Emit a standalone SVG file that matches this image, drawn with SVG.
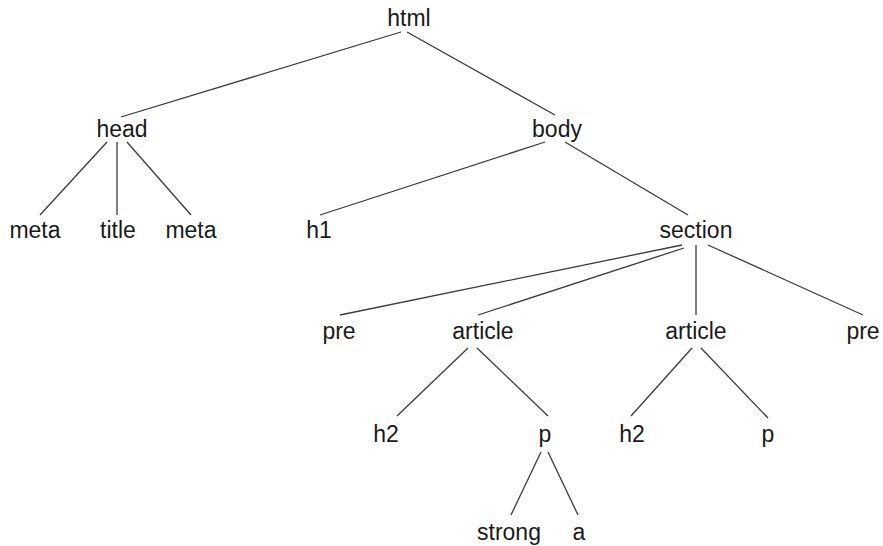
<svg xmlns="http://www.w3.org/2000/svg" width="883" height="546" viewBox="0 0 883 546">
<style>
text{font-family:"Liberation Sans",Arial,sans-serif;font-size:23px;fill:#1a1a1a;text-anchor:middle}
.c line{stroke:#3a3a3a;stroke-width:1.3;fill:none}
</style>
<rect width="883" height="546" fill="#ffffff"/>
<g class="c" id="connectors">
<line x1="401" y1="32" x2="121" y2="117"/>
<line x1="407" y1="32" x2="555" y2="115"/>
<line x1="107" y1="142" x2="40" y2="215"/>
<line x1="117" y1="142" x2="117" y2="215"/>
<line x1="127" y1="142" x2="191" y2="215"/>
<line x1="545" y1="142" x2="320" y2="215"/>
<line x1="565" y1="142" x2="688" y2="215"/>
<line x1="682" y1="245" x2="340" y2="315"/>
<line x1="684" y1="248" x2="478" y2="315"/>
<line x1="696" y1="245" x2="696" y2="315"/>
<line x1="708" y1="245" x2="863" y2="315"/>
<line x1="468" y1="348" x2="397" y2="416"/>
<line x1="477" y1="348" x2="548" y2="416"/>
<line x1="541" y1="452" x2="511" y2="515"/>
<line x1="548" y1="452" x2="578" y2="515"/>
<line x1="692" y1="348" x2="631" y2="416"/>
<line x1="701" y1="348" x2="768" y2="418"/>
</g>
<g id="n-html"><text x="409" y="26">html</text></g>
<g id="n-head"><text x="122" y="137">head</text></g>
<g id="n-body"><text x="557" y="137">body</text></g>
<g id="n-meta1"><text x="35" y="238">meta</text></g>
<g id="n-title"><text x="118" y="238">title</text></g>
<g id="n-meta2"><text x="191" y="238">meta</text></g>
<g id="n-h1"><text x="319" y="238">h1</text></g>
<g id="n-section"><text x="696" y="238">section</text></g>
<g id="n-pre1"><text x="339" y="339">pre</text></g>
<g id="n-article1"><text x="483" y="339">article</text></g>
<g id="n-article2"><text x="696" y="339">article</text></g>
<g id="n-pre2"><text x="863" y="339">pre</text></g>
<g id="n-h2a"><text x="386" y="442">h2</text></g>
<g id="n-p1"><text x="545" y="442">p</text></g>
<g id="n-h2b"><text x="632" y="442">h2</text></g>
<g id="n-p2"><text x="768" y="442">p</text></g>
<g id="n-strong"><text x="509" y="540">strong</text></g>
<g id="n-a"><text x="579" y="540">a</text></g>
</svg>
